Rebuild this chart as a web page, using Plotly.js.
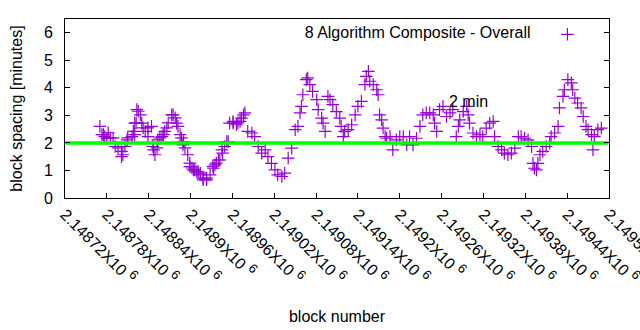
<!DOCTYPE html>
<html>
<head>
<meta charset="utf-8">
<script src="https://cdn.plot.ly/plotly-3.0.1.min.js"></script>
<style>html,body{margin:0;padding:0;background:#fff;}#chart{width:640px;height:330px;}</style>
</head>
<body>
<div id="chart"></div>
<script>
// block numbers (x) and block spacing in minutes (y)
const blocks = [
2148770,2148773,2148775,2148777,2148780,2148782,2148785,2148789,2148792,2148796,
2148801,2148801,2148803,2148806,2148809,2148810,2148816,2148818,2148820,2148820,
2148822,2148823,2148825,2148828,2148830,2148832,2148835,2148839,2148839,2148844,
2148846,2148847,2148849,2148852,2148853,2148856,2148859,2148861,2148863,2148866,
2148868,2148873,2148875,2148878,2148880,2148882,2148885,2148887,2148889,2148890,
2148892,2148896,2148899,2148899,2148902,2148904,2148906,2148909,2148911,2148914,
2148914,2148918,2148918,2148923,2148923,2148928,2148932,2148933,2148935,2148937,
2148940,2148942,2148945,2148946,2148949,2148952,2148954,2148956,2148961,2148961,
2148966,2148968,2148971,2148973,2148976,2148978,2148982,2148988,2148992,2148997,
2149002,2149007,2149011,2149016,2149021,2149025,2149031,2149035,2149040,2149045,
2149050,2149054,2149057,2149059,2149061,2149066,2149068,2149071,2149075,2149081,
2149083,2149088,2149090,2149093,2149097,2149100,2149104,2149109,2149114,2149116,
2149119,2149121,2149126,2149131,2149136,2149140,2149145,2149150,2149152,2149155,
2149157,2149162,2149167,2149169,2149171,2149174,2149176,2149179,2149181,2149186,
2149190,2149195,2149200,2149205,2149210,2149214,2149219,2149224,2149229,2149233,
2149238,2149243,2149248,2149250,2149253,2149257,2149262,2149267,2149272,2149276,
2149281,2149284,2149286,2149291,2149296,2149298,2149300,2149305,2149310,2149315,
2149319,2149324,2149329,2149334,2149336,2149341,2149346,2149350,2149355,2149360,
2149365,2149370,2149374,2149379,2149384,2149389,2149391,2149393,2149396,2149398,
2149401,2149405,2149410,2149415,2149417,2149422,2149427,2149429,2149434,2149436,
2149441,2149446,2149448,2149451,2149455,2149460,2149463,2149467,2149470,2149475,
2149477,2149479,2149484,2149489
];
const spacing = [
2.60,2.30,2.30,2.23,2.17,2.37,2.18,2.18,1.87,1.82,
1.69,1.50,1.57,1.87,2.11,2.18,2.23,2.42,2.30,2.72,
2.73,3.21,3.15,3.02,2.72,2.55,2.42,2.55,2.23,2.60,
1.87,1.75,1.57,1.82,2.11,2.18,2.23,2.30,2.42,2.55,
2.73,3.02,3.02,2.91,2.72,2.60,2.30,2.18,1.93,2.05,
1.82,1.57,1.27,1.14,1.09,1.02,1.02,0.96,0.96,0.84,
0.90,0.66,0.72,0.66,0.72,0.84,1.14,1.08,1.20,1.27,
1.38,1.38,1.75,1.63,1.87,2.05,2.05,2.72,2.72,2.78,
2.66,2.73,2.78,2.90,3.02,3.09,2.42,2.36,2.23,1.87,
1.63,1.75,1.50,1.26,1.02,0.84,0.78,0.90,1.45,1.81,
2.48,2.60,3.09,3.33,3.75,4.30,4.36,4.12,3.87,3.57,
3.21,2.90,2.72,2.42,3.69,3.57,3.39,3.14,2.90,2.60,
2.23,2.42,2.48,2.66,3.02,3.33,3.51,4.12,4.42,4.60,
4.24,4.12,3.93,3.75,3.02,2.84,2.54,2.23,2.17,2.23,
1.75,2.11,2.23,2.23,1.93,2.23,1.93,2.17,2.60,3.02,
3.09,3.09,3.02,2.72,2.42,3.21,3.33,2.96,3.09,3.21,
2.23,2.60,2.84,3.14,3.33,3.02,2.72,2.36,2.23,2.30,
2.23,2.54,2.72,2.78,2.23,1.87,1.75,1.63,1.57,1.63,
1.81,2.23,2.23,2.17,2.11,1.87,1.26,1.08,1.02,1.26,
1.57,1.69,1.87,1.99,2.23,2.36,2.60,3.27,3.69,3.93,
4.30,4.18,3.93,3.63,3.45,3.27,2.96,2.60,2.48,2.30,
1.75,2.23,2.48,2.54
];
const xRange = [2148720, 2149500];
const refLineX = [2148721, 2149499];
const refLineY = [2, 2];
const xTickVals = [2148720,2148780,2148840,2148900,2148960,2149020,2149080,2149140,2149200,2149260,2149320,2149380,2149440,2149500];
const xTickMant = ["2.14872","2.14878","2.14884","2.1489","2.14896","2.14902","2.14908","2.14914","2.1492","2.14926","2.14932","2.14938","2.14944","2.1495"];
const xTickText = xTickMant.map(s => s + "X10 <sup><span style='font-size:13px'>6</span></sup>");
const yTickVals = [0,1,2,3,4,5,6];
const seriesName = "8 Algorithm Composite - Overall";
const labelText = "2 min";
const labelPos = [2149267, 3.5];

const FONT = "Liberation Sans, Arial, sans-serif";
const FS = 16;
const purple = "#9400d3";

const traces = [
  {
    x: blocks, y: spacing, type: "scatter", mode: "markers", name: "",
    marker: {symbol: "cross-thin-open", size: 9, color: purple, line: {color: purple, width: 1.2}},
    showlegend: true
  },
  {
    x: refLineX, y: refLineY, type: "scatter", mode: "lines",
    line: {color: "#00ff00", width: 3.5}, showlegend: false, hoverinfo: "skip"
  }
];

const layout = {
  width: 640, height: 330,
  margin: {l: 65, r: 31, t: 19, b: 132},
  paper_bgcolor: "#ffffff", plot_bgcolor: "#ffffff",
  font: {family: FONT, size: FS, color: "#000000"},
  showlegend: true,
  legend: {
    x: 0.97, xanchor: "right", y: 0.914, yanchor: "middle",
    bgcolor: "rgba(0,0,0,0)", borderwidth: 0,
    title: {text: seriesName + "\u00a0\u00a0", side: "left", font: {family: FONT, size: FS, color: "#000"}},
    font: {family: FONT, size: FS, color: "#000"}
  },
  xaxis: {
    range: xRange, tickmode: "array", tickvals: xTickVals, ticktext: xTickText,
    tickangle: 45, ticks: "inside", ticklen: 5, tickcolor: "#000", tickwidth: 1,
    showline: true, linecolor: "#000", linewidth: 1, mirror: true,
    showgrid: false, zeroline: false, ticklabeloverflow: "allow",
    tickfont: {family: FONT, size: FS, color: "#000"},
    title: {text: "block number", font: {family: FONT, size: FS, color: "#000"}, standoff: 24}
  },
  yaxis: {
    range: [0, 6.5], tickmode: "array", tickvals: yTickVals,
    ticks: "inside", ticklen: 5, tickcolor: "#000", tickwidth: 1,
    showline: true, linecolor: "#000", linewidth: 1, mirror: "ticks",
    showgrid: false, zeroline: false, ticklabelstandoff: 8,
    tickfont: {family: FONT, size: FS, color: "#000"},
    title: {text: "block spacing [minutes]", font: {family: FONT, size: FS, color: "#000"}, standoff: 17}
  },
  annotations: [
    {x: labelPos[0], y: labelPos[1], xref: "x", yref: "y", text: labelText, showarrow: false,
     xanchor: "left", yanchor: "middle", font: {family: FONT, size: FS, color: "#000"}}
  ]
};

Plotly.newPlot("chart", traces, layout, {staticPlot: true, displayModeBar: false});
</script>
</body>
</html>
